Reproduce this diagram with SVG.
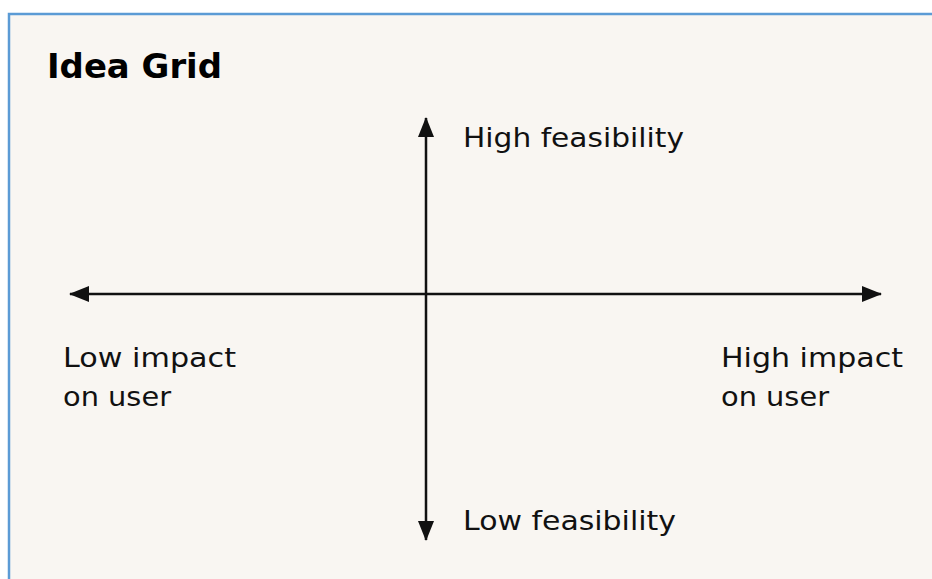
<svg xmlns="http://www.w3.org/2000/svg" width="932" height="579" viewBox="0 0 932 579">
<style>
.lbl{font-family:"DejaVu Sans","Liberation Sans",sans-serif;font-size:27px;fill:#111;}
.title{font-family:"DejaVu Sans","Liberation Sans",sans-serif;font-size:33px;font-weight:bold;fill:#000;}
.ax{stroke:#111;stroke-width:2.5;fill:none;}
</style>
<defs>
<marker id="ah" viewBox="0 0 20 16" refX="19" refY="8" markerWidth="20" markerHeight="16" markerUnits="userSpaceOnUse" orient="auto-start-reverse">
<path d="M0,0 L20,8 L0,16 z" fill="#111"/>
</marker>
</defs>
<rect x="0" y="0" width="932" height="579" fill="#ffffff"/>
<rect x="9" y="14" width="930" height="570" fill="#f9f6f2" stroke="#5b9bd5" stroke-width="2.5"/>
<g id="title"><text class="title" x="47" y="78" textLength="175" lengthAdjust="spacingAndGlyphs">Idea Grid</text></g>
<g id="connectors">
<line class="ax" x1="426" y1="540" x2="426" y2="118" marker-start="url(#ah)" marker-end="url(#ah)"/>
<line class="ax" x1="70" y1="294" x2="881" y2="294" marker-start="url(#ah)" marker-end="url(#ah)"/>
</g>
<g id="high-feasibility"><text class="lbl" x="463" y="147" textLength="221" lengthAdjust="spacingAndGlyphs">High feasibility</text></g>
<g id="low-feasibility"><text class="lbl" x="463" y="530" textLength="213" lengthAdjust="spacingAndGlyphs">Low feasibility</text></g>
<g id="low-impact"><text class="lbl" x="63" y="367" textLength="173" lengthAdjust="spacingAndGlyphs">Low impact</text><text class="lbl" x="63" y="406" textLength="108" lengthAdjust="spacingAndGlyphs">on user</text></g>
<g id="high-impact"><text class="lbl" x="721" y="367" textLength="182" lengthAdjust="spacingAndGlyphs">High impact</text><text class="lbl" x="721" y="406" textLength="108" lengthAdjust="spacingAndGlyphs">on user</text></g>
</svg>
